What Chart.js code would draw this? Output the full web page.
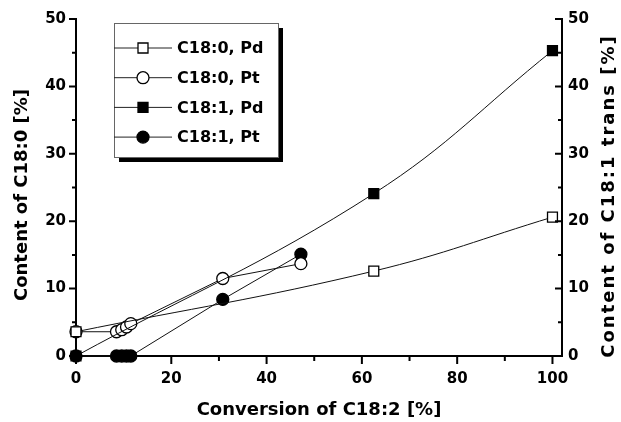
<!DOCTYPE html>
<html>
<head>
<meta charset="utf-8">
<script src="https://cdn.jsdelivr.net/npm/chart.js@4.4.1/dist/chart.umd.min.js"></script>
<style>
  body { margin: 0; background: #fff; }
  #wrap { width: 621px; height: 422px; }
</style>
</head>
<body>
<div id="wrap"><canvas id="myChart"></canvas></div>
<script>
// conversion of C18:2 [%] on x, content [%] on y
var pdConv = [0, 62.5, 100];
var pdC180 = [3.6, 12.6, 20.6];
var pdC181 = [0, 24.1, 45.3];
var ptConv = [0, 8.5, 9.6, 10.6, 11.5, 30.8, 47.2];
var ptC180 = [3.6, 3.6, 3.9, 4.3, 4.8, 11.5, 13.7];
var ptC181 = [0, 0, 0, 0, 0, 8.4, 15.1];

var xTicks = [0, 10, 20, 30, 40, 50, 60, 70, 80, 90, 100];
var yTicks = [0, 5, 10, 15, 20, 25, 30, 35, 40, 45, 50];
var seriesNames = ['C18:0, Pd', 'C18:0, Pt', 'C18:1, Pd', 'C18:1, Pt'];
var xTitle = 'Conversion of C18:2 [%]';
var yTitle = 'Content of C18:0 [%]';
var y2Title = 'Content of C18:1 trans [%]';

function pts(xs, ys) {
    return xs.map((x, i) => ({x: x, y: ys[i]}));
}

var FONT = "'DejaVu Sans', sans-serif";

function series(name, data, style, filled, curved, axis) {
    return {
        label: name,
        data: data,
        yAxisID: axis,
        borderColor: '#111',
        borderWidth: 1,
        backgroundColor: filled ? '#000' : '#fff',
        pointStyle: style,
        pointRadius: style == 'rect' ? 7 : 6,
        pointBorderColor: '#000',
        pointBorderWidth: 1.3,
        tension: curved ? 0.4 : 0,
        clip: false,
        fill: false
    };
}

// tick marks: major ones longer, right axis ticks point inward
var tickPlugin = {
    id: 'ticks',
    afterDraw(chart) {
        var c = chart.ctx;
        c.save();
        c.strokeStyle = '#000';
        c.lineWidth = 2;
        var x = chart.scales.x, y = chart.scales.y, y2 = chart.scales.y2;
        var area = chart.chartArea;
        c.beginPath();
        xTicks.forEach(v => {
            var px = x.getPixelForValue(v);
            var len = v % 20 == 0 ? 8 : 5;
            c.moveTo(px, area.bottom);
            c.lineTo(px, area.bottom + len);
        });
        yTicks.forEach(v => {
            var py = y.getPixelForValue(v);
            var len = v % 10 == 0 ? 7 : 4;
            c.moveTo(area.left, py);
            c.lineTo(area.left - len, py);
            py = y2.getPixelForValue(v);
            c.moveTo(area.right, py);
            c.lineTo(area.right - len, py);
        });
        c.stroke();

        // axis titles (both vertical ones read bottom to top)
        c.fillStyle = '#000';
        c.font = 'bold 18px ' + FONT;
        c.textAlign = 'center';
        c.textBaseline = 'middle';
        c.fillText(xTitle, (area.left + area.right) / 2, 410);
        c.save();
        c.translate(22, 195);
        c.rotate(-Math.PI / 2);
        c.fillText(yTitle, 0, 0);
        c.restore();
        c.save();
        c.translate(609, 196);
        c.rotate(-Math.PI / 2);
        c.letterSpacing = '2px';
        c.fillText(y2Title, 0, 0);
        c.restore();
        c.restore();
    }
};

// boxed legend with a drop shadow, inside the plot
var legendPlugin = {
    id: 'boxLegend',
    afterDraw(chart) {
        var c = chart.ctx;
        var bx = 114, by = 23, bw = 164, bh = 134;
        c.save();
        c.fillStyle = '#000';
        c.fillRect(bx + 5, by + 5, bw, bh);
        c.fillStyle = '#fff';
        c.fillRect(bx, by, bw, bh);
        c.strokeStyle = '#666';
        c.lineWidth = 1;
        c.strokeRect(bx + 0.5, by + 0.5, bw, bh);
        var order = [0, 2, 1, 3];
        order.forEach((di, row) => {
            var ds = chart.data.datasets[di];
            var ry = 48 + row * 29.7;
            c.strokeStyle = '#222';
            c.lineWidth = 1;
            c.beginPath();
            c.moveTo(bx, ry);
            c.lineTo(bx + 58, ry);
            c.stroke();
            c.fillStyle = ds.backgroundColor;
            c.strokeStyle = '#000';
            c.lineWidth = 1.3;
            c.beginPath();
            if (ds.pointStyle == 'rect') {
                c.rect(bx + 24, ry - 5, 10, 10);
            } else {
                c.arc(bx + 29, ry, 6, 0, Math.PI * 2);
            }
            c.fill();
            c.stroke();
            c.fillStyle = '#000';
            c.font = 'bold 16px ' + FONT;
            c.textBaseline = 'middle';
            c.fillText(ds.label, bx + 63, ry + 1);
        });
        c.restore();
    }
};

var tickFont = {family: FONT, size: 15, weight: 'bold'};

var ctx = document.getElementById('myChart').getContext('2d');
var chart = new Chart(ctx, {
    type: 'line',
    data: {
        datasets: [
            series(seriesNames[0], pts(pdConv, pdC180), 'rect', false, true, 'y'),
            series(seriesNames[2], pts(pdConv, pdC181), 'rect', true, true, 'y2'),
            series(seriesNames[1], pts(ptConv, ptC180), 'circle', false, false, 'y'),
            series(seriesNames[3], pts(ptConv, ptC181), 'circle', true, false, 'y2')
        ]
    },
    options: {
        responsive: true,
        maintainAspectRatio: false,
        animation: false,
        layout: {padding: {top: 17, left: 0, right: 0, bottom: 0}},
        plugins: {legend: {display: false}, tooltip: {enabled: false}},
        scales: {
            x: {
                type: 'linear',
                min: 0,
                max: 102,
                afterBuildTicks: s => { s.ticks = xTicks.map(v => ({value: v})); },
                afterFit: s => { s.height = 66; },
                grid: {display: true, drawOnChartArea: false, drawTicks: false},
                border: {display: true, color: '#000', width: 2},
                ticks: {
                    color: '#000', font: tickFont, padding: 14, maxRotation: 0,
                    callback: v => v % 20 == 0 ? v : ''
                }
            },
            y: {
                position: 'left',
                min: 0,
                max: 50,
                afterBuildTicks: s => { s.ticks = yTicks.map(v => ({value: v})); },
                afterFit: s => { s.width = 76; },
                grid: {display: true, drawOnChartArea: false, drawTicks: false},
                border: {display: true, color: '#000', width: 2},
                ticks: {
                    color: '#000', font: tickFont, padding: 10,
                    callback: v => v % 10 == 0 ? v : ''
                }
            },
            y2: {
                position: 'right',
                min: 0,
                max: 50,
                afterBuildTicks: s => { s.ticks = yTicks.map(v => ({value: v})); },
                afterFit: s => { s.width = 59; },
                grid: {display: true, drawOnChartArea: false, drawTicks: false},
                border: {display: true, color: '#000', width: 2},
                ticks: {
                    color: '#000', font: tickFont, padding: 6,
                    callback: v => v % 10 == 0 ? v : ''
                }
            }
        }
    },
    plugins: [tickPlugin, legendPlugin]
});
</script>
</body>
</html>
